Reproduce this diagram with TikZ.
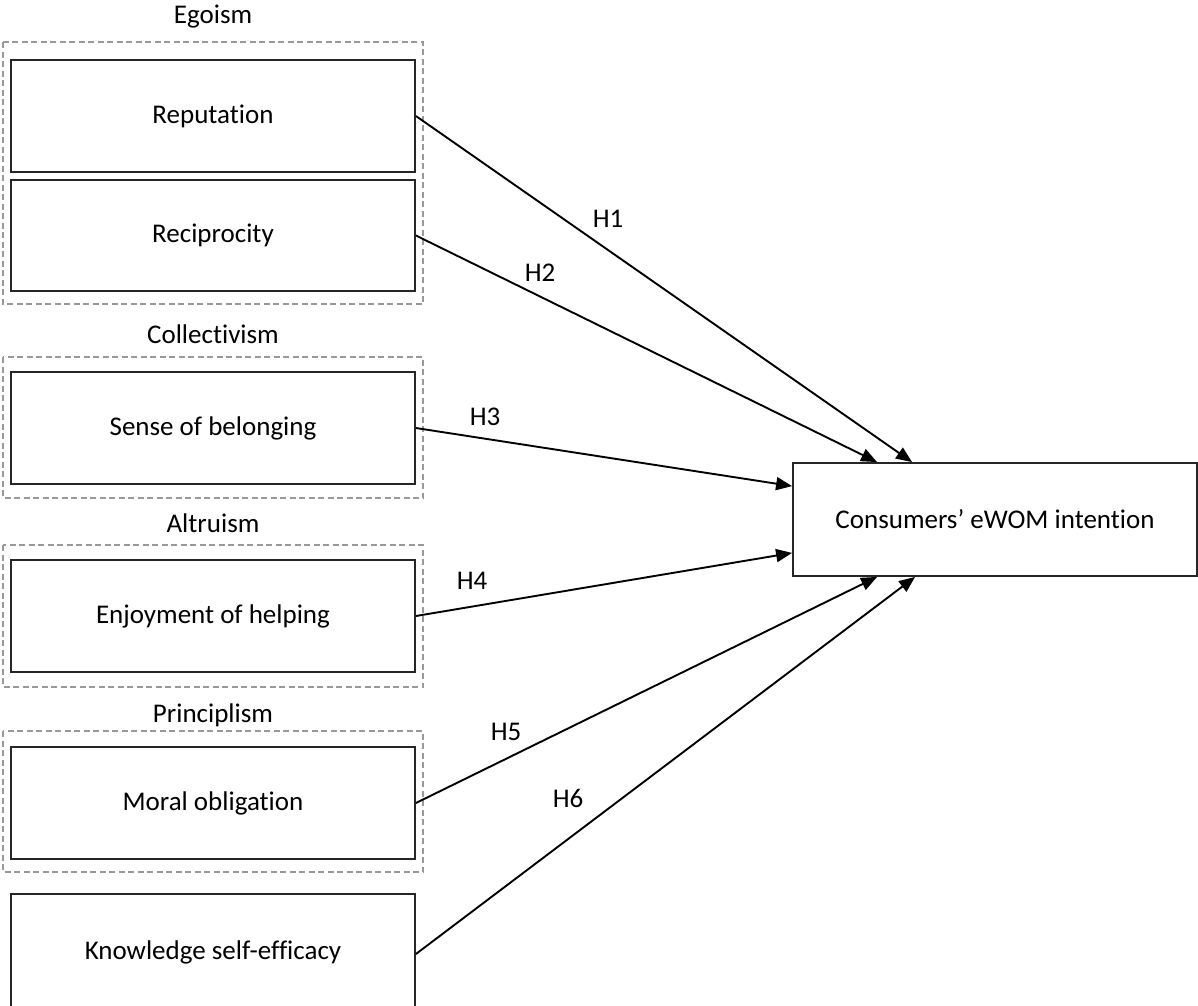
\documentclass[tikz,border=0pt]{standalone}
\usepackage{fontspec}
\setmainfont{Carlito}[Ligatures={NoCommon}]
\usetikzlibrary{arrows.meta}
\begin{document}
\begin{tikzpicture}[x=1pt,y=-1pt,
  every node/.style={font=\fontsize{27}{32}\selectfont, text=black},
  cbox/.style={draw=black!85, line width=1.8pt, minimum width=404pt, minimum height=112pt, inner sep=0pt},
  grp/.style={draw=black!40, line width=1.1pt, dash pattern=on 6pt off 3.5pt},
  hyp/.style={draw=black, line width=1.9pt, -{Triangle[length=16pt,width=13pt]}},
  lbl/.style={inner sep=0pt}
]
\useasboundingbox (0,0) rectangle (1198,1005);
\fill[white] (0,0) rectangle (1198,1005);

% group frames
\draw[grp] (3,42) rectangle (423,304);
\draw[grp] (3,357) rectangle (423,498);
\draw[grp] (3,545) rectangle (423,687);
\draw[grp] (3,731) rectangle (423,872);

% group labels
\node[lbl] (gego) at (213,17) {Egoism};
\node[lbl] (gcol) at (213,334) {Collectivism};
\node[lbl] (galt) at (213,523) {Altruism};
\node[lbl] (gpri) at (213,715) {Principlism};

% constructs
\node[cbox] (rep) at (213,116) {Reputation};
\node[cbox, minimum height=111pt] (rec) at (213,235.5) {Reciprocity};
\node[cbox] (sob) at (213,428) {Sense of belonging};
\node[cbox] (eoh) at (213,616) {Enjoyment of helping};
\node[cbox] (mob) at (213,803) {Moral obligation};
\node[cbox, minimum height=116pt] (kse) at (213,952) {Knowledge self-efficacy};
\node[cbox, minimum height=113pt] (ewom) at (995,519.5) {Consumers’ eWOM intention};

% target points
\coordinate (t1) at ([xshift=120pt]ewom.north west);
\coordinate (t2) at ([xshift=85pt]ewom.north west);
\coordinate (t3) at ([yshift=-24pt]ewom.north west);
\coordinate (t4) at ([yshift=24pt]ewom.south west);
\coordinate (t5) at ([xshift=85pt]ewom.south west);
\coordinate (t6) at ([xshift=123pt]ewom.south west);

\draw[hyp] (rep.east) -- (t1);
\draw[hyp] (rec.east) -- (t2);
\draw[hyp] (sob.east) -- (t3);
\draw[hyp] (eoh.east) -- (t4);
\draw[hyp] (mob.east) -- (t5);
\draw[hyp] ([yshift=-2pt]kse.east) -- (t6);

% hypothesis labels
\node[lbl] (h1) at (608,219) {H1};
\node[lbl] (h2) at (540,273) {H2};
\node[lbl] (h3) at (485,417) {H3};
\node[lbl] (h4) at (472,581) {H4};
\node[lbl] (h5) at (506,732) {H5};
\node[lbl] (h6) at (568,798) {H6};
\end{tikzpicture}
\end{document}
